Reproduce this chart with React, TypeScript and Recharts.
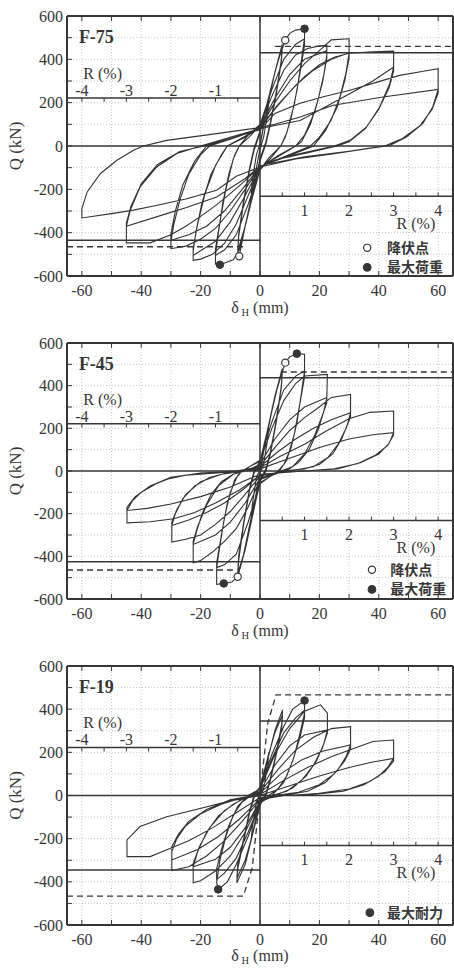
import React from 'react';
import { ComposedChart, Line, Scatter, XAxis, YAxis, CartesianGrid, ReferenceLine, ReferenceDot } from 'recharts';

type Pt = [number, number];

const INK = '#363636';
const SERIF = '"Liberation Serif", "DejaVu Serif", serif';
const CJK = '"Noto Sans CJK JP", "Noto Sans CJK SC", sans-serif';

// axes
const xTicks = [-60, -50, -40, -30, -20, -10, 0, 10, 20, 30, 40, 50, 60];
const yTicks = [-600, -500, -400, -300, -200, -100, 0, 100, 200, 300, 400, 500, 600];
const rTicksNeg = [-4, -3.5, -3, -2.5, -2, -1.5, -1, -0.5];
const rTicksPos = [0.5, 1, 1.5, 2, 2.5, 3, 3.5, 4];
const rLabelsNeg = [-4, -3, -2, -1];
const rLabelsPos = [1, 2, 3, 4];
const MM_PER_R = 15; // 1% drift = 15 mm
const R_LINE_TOP = 222;
const R_LINE_BOT = -232;

// ---------- F-75 cycles (δH mm, Q kN)
const f75C0: Pt[] = [[0,0],[1.5,110],[3,210],[2.6,150],[1.2,40],[0,-15],[-1.5,-120],[-3,-220],[-2.6,-160],[-1.2,-40],[0,10]];
const f75C1: Pt[] = [[0,10],[2.5,180],[5,340],[7.5,470],[7.2,400],[5.5,250],[3.5,110],[2,20],[0,-60],[-2.5,-210],[-5,-370],[-7,-509],[-7.5,-500],[-7.2,-420],[-5.5,-260],[-3.5,-110],[-2,-20],[0,60]];
const f75C2: Pt[] = [[0,60],[2.5,200],[5,340],[7.5,455],[7.2,390],[5.5,240],[3.5,100],[2,10],[0,-70],[-2.5,-220],[-5,-370],[-7.5,-485],[-7.2,-410],[-5.5,-250],[-3.5,-100],[-2,-10],[0,70]];
const f75C3: Pt[] = [[0,70],[3,230],[6,390],[8.5,488],[10,520],[12,535],[15,541],[15,500],[14,400],[12.5,260],[10.5,130],[8.5,40],[7,0],[4,-50],[0,-110],[-3,-260],[-5.5,-400],[-7,-480],[-9,-525],[-13.5,-548],[-15,-545],[-15,-505],[-14,-400],[-12.5,-260],[-10.5,-130],[-8.5,-40],[-7,0],[-4,50],[0,100]];
const f75C4: Pt[] = [[0,100],[4,260],[8,400],[12,470],[15,495],[15,465],[13.5,340],[11.5,190],[9,60],[7,0],[3,-55],[0,-110],[-4,-270],[-8,-410],[-12,-480],[-15,-505],[-15,-475],[-13.5,-350],[-11.5,-200],[-9,-60],[-7,0],[-3,50],[0,95]];
const f75C5: Pt[] = [[0,95],[4,230],[8,350],[12,420],[16,450],[20,462],[22.5,465],[22.5,420],[21.5,330],[19.5,210],[17,100],[14,20],[12,0],[6,-45],[0,-100],[-4,-230],[-8,-360],[-12,-450],[-16,-500],[-20,-522],[-22.5,-528],[-22.5,-485],[-21.5,-390],[-19.5,-260],[-16.5,-130],[-13,-40],[-11,0],[-5,45],[0,90]];
const f75C6: Pt[] = [[0,90],[5,220],[10,330],[15,400],[22.5,440],[22.5,405],[21,290],[18.5,160],[15,50],[12,0],[6,-50],[0,-95],[-5,-230],[-10,-350],[-15,-440],[-22.5,-505],[-22.5,-470],[-21,-360],[-18.5,-220],[-15,-90],[-11,0],[-5,40],[0,85]];
const f75C7: Pt[] = [[0,85],[5,200],[10,300],[15,380],[20,440],[24,490],[30,495],[30,430],[29,340],[27,230],[24,120],[20,40],[17,0],[9,-45],[0,-95],[-5,-200],[-10,-300],[-15,-380],[-20,-430],[-25,-462],[-30,-474],[-30,-440],[-29,-360],[-27,-250],[-24,-130],[-20,-40],[-17,0],[-8,40],[0,85]];
const f75C8: Pt[] = [[0,85],[6,190],[12,280],[18,350],[24,400],[30,430],[30,405],[28.5,300],[26,180],[22,70],[18,0],[9,-50],[0,-95],[-6,-200],[-12,-300],[-18,-370],[-24,-410],[-30,-435],[-30,-405],[-28.5,-300],[-26,-180],[-22,-70],[-18,0],[-8,40],[0,80]];
const f75C9: Pt[] = [[0,80],[5,170],[10,250],[15,320],[20,375],[25,410],[30,428],[38,435],[45,438],[45,364],[43.7,288],[40.3,180],[35.9,88],[30.3,26],[25,0],[15,-30],[7,-55],[0,-95],[-5,-160],[-10,-220],[-15,-275],[-20,-325],[-25,-370],[-30,-410],[-37,-447],[-45,-447],[-45,-370],[-43.7,-297],[-40.4,-189],[-34.8,-97],[-28,-35],[-20,0],[-10,40],[0,80]];
const f75C10: Pt[] = [[0,80],[5,95],[13.5,118],[22,180],[30.3,242],[38,300],[45,364],[45,345],[43.5,270],[40,170],[35.5,80],[30,20],[26,0],[15,-35],[5,-65],[0,-95],[-5,-150],[-14.6,-235],[-25,-285],[-31.4,-312],[-45,-370],[-45,-355],[-43.5,-280],[-40,-175],[-34.5,-85],[-27,-25],[-19,0],[-10,35],[0,75]];
const f75C11: Pt[] = [[0,75],[5,150],[13.5,197],[22,230],[30.3,257],[40,297],[47,326],[55,345],[60,357],[60,261],[58.2,181],[54.8,103],[49.3,41],[43.7,3],[36,-12],[25,-35],[12,-60],[0,-97],[-8,-140],[-14.6,-204],[-25,-245],[-35,-275],[-42.6,-296],[-50,-312],[-60,-332],[-60,-289],[-58.2,-212],[-53.8,-128],[-48.2,-66],[-42.6,-20],[-39.3,0],[-31.4,26],[-14.6,57],[0,85]];
const f75C12: Pt[] = [[0,85],[5,100],[13.5,134],[24.7,188],[41.4,226],[60,261],[60,245],[58,170],[54,95],[48,35],[42,0],[30,-25],[15,-50],[0,-90]];

// ---------- F-45 cycles
const f45C0: Pt[] = [[0,0],[1.5,110],[3,220],[2.6,150],[1.2,30],[0,-10],[-1.5,-120],[-3,-230],[-2.6,-160],[-1.2,-30],[0,10]];
const f45C1: Pt[] = [[0,10],[2.5,180],[5,350],[7.5,480],[7.2,400],[5.5,240],[3.5,90],[2,10],[0,-40],[-2.5,-200],[-5,-370],[-7.5,-496],[-7.2,-420],[-5.5,-250],[-3.5,-90],[-2,-10],[0,40]];
const f45C2: Pt[] = [[0,40],[2.5,190],[5,350],[7.5,465],[7.2,390],[5.5,230],[3.5,80],[2,0],[0,-50],[-2.5,-210],[-5,-370],[-7.5,-480],[-7.2,-400],[-5.5,-240],[-3.5,-80],[-2,0],[0,45]];
const f45C3: Pt[] = [[0,45],[3,220],[6,400],[8.5,508],[10,535],[12.4,550],[15,547],[15,469],[14,370],[12.5,230],[10.5,110],[8,30],[6,0],[3,-30],[0,-60],[-3,-220],[-5.5,-390],[-7.5,-496],[-9.5,-520],[-12.2,-527],[-14.6,-531],[-14.6,-453],[-13.5,-350],[-12,-220],[-10,-100],[-7.5,-20],[-6,0],[-3,25],[0,50]];
const f45C4: Pt[] = [[0,50],[4,230],[8,380],[12,445],[15,469],[15,440],[13.5,320],[11.5,170],[9,50],[6.5,0],[3,-30],[0,-55],[-4,-240],[-8,-390],[-12,-440],[-14.6,-453],[-14.6,-430],[-13,-300],[-11,-150],[-8.5,-40],[-6,0],[-3,25],[0,45]];
const f45C5: Pt[] = [[0,45],[4,200],[8,330],[12,410],[15,445],[22.7,453],[22.5,344],[21.5,280],[19.5,190],[16.5,100],[13,40],[10,10],[6,-10],[0,-40],[-4,-170],[-8,-270],[-12,-330],[-16,-380],[-20,-420],[-22.5,-430],[-22.5,-344],[-21.5,-290],[-19.5,-200],[-16.5,-110],[-13,-50],[-9,-15],[-5,0],[0,30]];
const f45C6: Pt[] = [[0,30],[5,150],[10,240],[15,300],[22.5,344],[22.5,320],[21,260],[18.5,170],[15,80],[11,20],[7,0],[0,-35],[-5,-150],[-10,-240],[-15,-300],[-22.5,-344],[-22.5,-330],[-21,-260],[-18,-160],[-14,-70],[-9,-15],[-5,0],[0,25]];
const f45C7: Pt[] = [[0,25],[5,110],[10,190],[15,250],[20,300],[24,345],[30.5,359],[30.5,273],[29.5,220],[27.5,150],[24.5,80],[20,30],[15,10],[8,0],[0,-25],[-5,-110],[-10,-190],[-15,-250],[-20,-300],[-25,-320],[-29.7,-333],[-29.7,-255],[-28.5,-200],[-26,-130],[-22,-70],[-17,-30],[-10,-5],[0,20]];
const f45C8: Pt[] = [[0,20],[6,90],[12,150],[18,200],[24,240],[30.5,273],[30.5,255],[29,200],[26.5,130],[23,65],[18,20],[10,0],[0,-20],[-6,-90],[-12,-150],[-18,-195],[-24,-230],[-29.7,-255],[-29.7,-240],[-28,-180],[-25,-110],[-20,-50],[-13,-15],[-5,0],[0,15]];
const f45C9: Pt[] = [[0,15],[7,70],[15,125],[22,185],[30,245],[37,275],[45,281],[45,180],[43.5,130],[40,80],[34,40],[26,10],[15,0],[5,-10],[0,-20],[-7,-90],[-15,-150],[-22,-195],[-29,-224],[-37,-238],[-44.8,-243],[-44.8,-185],[-43,-140],[-40,-100],[-35,-60],[-31,-37],[-25,-20],[-14.4,-9],[0,10]];
const f45C10: Pt[] = [[0,10],[10,60],[20,110],[30,150],[38,170],[45,180],[45,170],[43,120],[39,75],[33,35],[25,10],[15,0],[0,-15],[-10,-75],[-20,-120],[-30,-155],[-38,-175],[-44.8,-185],[-44.8,-170],[-42,-120],[-37,-70],[-30,-30],[-20,-10],[0,5]];

// ---------- F-19 cycles
const f19C0: Pt[] = [[0,0],[1.5,100],[3,200],[2.6,140],[1.2,30],[0,-10],[-1.5,-110],[-3,-210],[-2.6,-150],[-1.2,-30],[0,10]];
const f19C1: Pt[] = [[0,10],[2.5,160],[5,300],[7.6,396],[7.3,330],[5.5,200],[3.5,80],[2,10],[0,-40],[-2.5,-180],[-5,-320],[-7.8,-404],[-7.5,-340],[-5.5,-210],[-3.5,-80],[-2,-10],[0,40]];
const f19C2: Pt[] = [[0,40],[2.5,170],[5,290],[7.6,375],[7.3,310],[5.5,190],[3.5,70],[2,0],[0,-45],[-2.5,-180],[-5,-300],[-7.8,-385],[-7.5,-320],[-5.5,-200],[-3.5,-70],[-2,0],[0,40]];
const f19C3: Pt[] = [[0,40],[4,190],[8,320],[11,400],[15,440],[15,380],[13.5,290],[11.5,180],[9,90],[6,30],[3,0],[0,-35],[-4,-190],[-8,-320],[-11,-400],[-14.1,-435],[-14.6,-404],[-13.5,-300],[-11.5,-190],[-9,-90],[-6,-30],[-3,0],[0,35]];
const f19C4: Pt[] = [[0,35],[4,170],[8,290],[12,360],[15,395],[15,360],[13.5,270],[11,160],[8,60],[4,0],[0,-35],[-4,-170],[-8,-290],[-12,-360],[-14.6,-390],[-14.6,-340],[-13,-250],[-10.5,-140],[-7.5,-50],[-4,0],[0,30]];
const f19C5: Pt[] = [[0,30],[5,190],[10,310],[15,390],[20.4,420],[22.7,381],[22.7,304],[21.5,240],[19,160],[15.5,90],[11,35],[6,5],[0,-30],[-5,-170],[-10,-280],[-15,-350],[-20,-395],[-22.5,-404],[-22.5,-330],[-21,-260],[-18,-170],[-14,-95],[-9,-40],[-4,-5],[0,20]];
const f19C6: Pt[] = [[0,20],[5,140],[10,230],[15,280],[22.7,304],[22.7,290],[21,220],[18,140],[14,70],[9,20],[4,0],[0,-25],[-5,-150],[-10,-240],[-15,-295],[-22.5,-330],[-22.5,-315],[-20.5,-240],[-17,-150],[-12,-70],[-6,-15],[0,15]];
const f19C7: Pt[] = [[0,15],[6,120],[12,210],[18,270],[24,310],[30.5,319],[30.5,234],[29,180],[26,115],[22,60],[16,20],[8,0],[0,-20],[-6,-120],[-12,-210],[-18,-280],[-24,-330],[-29.7,-348],[-29.7,-260],[-28,-200],[-25,-140],[-20,-85],[-13,-40],[-6,-10],[0,10]];
const f19C8: Pt[] = [[0,10],[7,100],[14,165],[21,205],[30.5,234],[30.5,215],[28.5,160],[25,100],[20,50],[13,15],[5,0],[0,-15],[-7,-110],[-14,-190],[-21,-250],[-29.7,-299],[-29.7,-237],[-27.5,-180],[-24,-120],[-18,-65],[-10,-20],[0,5]];
const f19C9: Pt[] = [[0,5],[8,70],[16,130],[24,180],[32,220],[38,250],[45,257],[45,172],[43,130],[40,90],[35,50],[28,20],[18,5],[8,0],[0,-10],[-8,-80],[-16,-150],[-24,-210],[-32,-255],[-37,-283],[-44.8,-283],[-44.8,-206],[-40.4,-144],[-31.4,-98],[-20.2,-60],[-10,-25],[0,0]];
const f19C10: Pt[] = [[0,0],[10,45],[20,90],[30,130],[38,155],[45,172],[45,160],[42,110],[37,65],[30,30],[20,10],[10,0]];

// reference levels
const f75Solid: Pt[][] = [[[0,430],[65,430]], [[-65,-435],[0,-435]]];
const f75Dashed: Pt[][] = [[[5,460],[65,460]], [[-65,-465],[-5,-465]]];
const f45Solid: Pt[][] = [[[0,437],[65,437]], [[-65,-425],[0,-425]]];
const f45Dashed: Pt[][] = [[[7,464],[65,464]], [[-65,-464],[-8,-464]]];
const f19Solid: Pt[][] = [[[0,345],[65,345]], [[-65,-345],[0,-345]]];
const f19Dashed: Pt[][] = [[[-65,-466],[-5.6,-466],[-2.6,-334],[2.6,334],[5.4,466],[65,466]]];

// markers
const f75Yield: Pt[] = [[8.5,488],[-7,-509]];
const f75Max: Pt[] = [[15,541],[-13.5,-548]];
const f45Yield: Pt[] = [[8.5,508],[-7.5,-496]];
const f45Max: Pt[] = [[12.4,550],[-12.2,-527]];
const f19Max: Pt[] = [[15,440],[-14.1,-435]];

type LegendItem = { kind: 'open' | 'filled'; text: string; y: number };

interface PanelCfg {
  name: string;
  top: number;
  plotH: number;
  loops: Pt[][];
  solid: Pt[][];
  dashed: Pt[][];
  yieldPts: Pt[];
  maxPts: Pt[];
  legend: LegendItem[];
  legendX: number;
  legendTextX: number;
  xTitleY: number;
}

const panels: PanelCfg[] = [
  {
    name: 'F-75', top: 0, plotH: 260,
    loops: [f75C0, f75C1, f75C2, f75C3, f75C4, f75C5, f75C6, f75C7, f75C8, f75C9, f75C10, f75C11, f75C12],
    solid: f75Solid, dashed: f75Dashed, yieldPts: f75Yield, maxPts: f75Max,
    legend: [{ kind: 'open', text: '降伏点', y: -470 }, { kind: 'filled', text: '最大荷重', y: -560 }],
    legendX: 36.1, legendTextX: 42.8, xTitleY: -748,
  },
  {
    name: 'F-45', top: 327, plotH: 256,
    loops: [f45C0, f45C1, f45C2, f45C3, f45C4, f45C5, f45C6, f45C7, f45C8, f45C9, f45C10],
    solid: f45Solid, dashed: f45Dashed, yieldPts: f45Yield, maxPts: f45Max,
    legend: [{ kind: 'open', text: '降伏点', y: -463 }, { kind: 'filled', text: '最大荷重', y: -555 }],
    legendX: 37.7, legendTextX: 43.9, xTitleY: -752,
  },
  {
    name: 'F-19', top: 650, plotH: 259,
    loops: [f19C0, f19C1, f19C2, f19C3, f19C4, f19C5, f19C6, f19C7, f19C8, f19C9, f19C10],
    solid: f19Solid, dashed: f19Dashed, yieldPts: [], maxPts: f19Max,
    legend: [{ kind: 'filled', text: '最大耐力', y: -543 }],
    legendX: 37, legendTextX: 42.8, xTitleY: -745,
  },
];

const toRows = (pts: Pt[]) => pts.map(([x, y]) => ({ x, y }));

const xTick = (p: any) => {
  const v = p.payload.value;
  if (v % 20 !== 0) return <g />;
  return (
    <text x={p.x} y={p.y} dy="0.71em" textAnchor="middle" fontFamily={SERIF} fontSize={16} fill={INK}>{v}</text>
  );
};

const yTick = (p: any) => {
  const v = p.payload.value;
  if (v % 200 !== 0) return <g />;
  return (
    <text x={p.x} y={p.y} dy="0.35em" textAnchor="end" fontFamily={SERIF} fontSize={16} fill={INK}>{v}</text>
  );
};

const noTick = () => <g />;

// text anchored at a data point
const textAt = (key: string, x: number, y: number, render: (cx: number, cy: number) => React.ReactElement) => (
  <ReferenceDot
    key={key}
    x={x}
    y={y}
    r={0}
    fill="none"
    stroke="none"
    ifOverflow="visible"
    label={(p: any) => {
      const vb = p.viewBox || p;
      return render(vb.x, vb.y);
    }}
  />
);

const openDot = (p: any) => <circle cx={p.cx} cy={p.cy} r={3.6} fill="#fff" stroke={INK} strokeWidth={1.2} />;
const fullDot = (p: any) => <circle cx={p.cx} cy={p.cy} r={3.8} fill={INK} stroke={INK} />;

function Panel({ cfg }: { cfg: PanelCfg }) {
  const height = 15 + 1 + cfg.plotH + 44;
  const path = toRows(cfg.loops.flat());
  const serif = { fontFamily: SERIF, fill: INK };
  return (
    <div style={{ position: 'absolute', left: 0, top: cfg.top }}>
      <ComposedChart width={454} height={height} margin={{ top: 15, right: 1, left: 0, bottom: 0 }}>
        <CartesianGrid stroke="#b9b9b9" strokeDasharray="1 2" strokeWidth={0.8} />
        <XAxis
          type="number" dataKey="x" domain={[-65, 65]} ticks={xTicks} interval={0} allowDataOverflow
          height={44} tickSize={-5} tickMargin={14} tick={xTick}
          axisLine={{ stroke: INK, strokeWidth: 2 }} tickLine={{ stroke: INK }}
        />
        <XAxis
          xAxisId="top" orientation="top" type="number" dataKey="x" domain={[-65, 65]} ticks={xTicks} interval={0}
          allowDataOverflow height={1} tickSize={-5} tick={noTick}
          axisLine={{ stroke: INK, strokeWidth: 2 }} tickLine={{ stroke: INK }}
        />
        <YAxis
          type="number" dataKey="y" domain={[-600, 600]} ticks={yTicks} interval={0} allowDataOverflow
          width={67} tickSize={-5} tickMargin={9} tick={yTick}
          axisLine={{ stroke: INK, strokeWidth: 2 }} tickLine={{ stroke: INK }}
        />
        <ReferenceLine x={65} stroke={INK} strokeWidth={2} />
        <ReferenceLine y={0} stroke={INK} strokeWidth={1.5} />
        <ReferenceLine x={0} stroke={INK} strokeWidth={1.5} />

        {/* drift-angle scales */}
        <ReferenceLine segment={[{ x: -65, y: R_LINE_TOP }, { x: 0, y: R_LINE_TOP }]} stroke={INK} strokeWidth={1.5} />
        <ReferenceLine segment={[{ x: 0, y: R_LINE_BOT }, { x: 65, y: R_LINE_BOT }]} stroke={INK} strokeWidth={1.5} />
        {rTicksNeg.map((r) => (
          <ReferenceLine key={`rn${r}`} segment={[{ x: r * MM_PER_R, y: R_LINE_TOP }, { x: r * MM_PER_R, y: R_LINE_TOP - 18 }]} stroke={INK} strokeWidth={1} />
        ))}
        {rTicksPos.map((r) => (
          <ReferenceLine key={`rp${r}`} segment={[{ x: r * MM_PER_R, y: R_LINE_BOT }, { x: r * MM_PER_R, y: R_LINE_BOT + 18 }]} stroke={INK} strokeWidth={1} />
        ))}

        {cfg.solid.map((seg, i) => (
          <Line key={`s${i}`} data={toRows(seg)} dataKey="y" type="linear" stroke={INK} strokeWidth={1.5} dot={false} isAnimationActive={false} />
        ))}
        {cfg.dashed.map((seg, i) => (
          <Line key={`d${i}`} data={toRows(seg)} dataKey="y" type="linear" stroke={INK} strokeWidth={1.3} strokeDasharray="6 4" dot={false} isAnimationActive={false} />
        ))}

        <Line data={path} dataKey="y" type="linear" stroke="#333" strokeWidth={1.1} dot={false} isAnimationActive={false} />

        {cfg.yieldPts.length > 0 && (
          <Scatter data={toRows(cfg.yieldPts)} dataKey="y" shape={openDot} isAnimationActive={false} />
        )}
        <Scatter data={toRows(cfg.maxPts)} dataKey="y" shape={fullDot} isAnimationActive={false} />

        {/* texts */}
        {textAt('title', -61, 505, (cx, cy) => (
          <text x={cx} y={cy} dy="0.35em" fontSize={18} fontWeight="bold" {...serif}>{cfg.name}</text>
        ))}
        {textAt('rtl', -53, 337, (cx, cy) => (
          <text x={cx} y={cy} dy="0.35em" textAnchor="middle" fontSize={16} {...serif}>R (%)</text>
        ))}
        {rLabelsNeg.map((r) =>
          textAt(`rln${r}`, r * MM_PER_R, 258, (cx, cy) => (
            <text x={cx} y={cy} dy="0.35em" textAnchor="middle" fontSize={16} {...serif}>{r}</text>
          ))
        )}
        {rLabelsPos.map((r) =>
          textAt(`rlp${r}`, r * MM_PER_R, -297, (cx, cy) => (
            <text x={cx} y={cy} dy="0.35em" textAnchor="middle" fontSize={16} {...serif}>{r}</text>
          ))
        )}
        {textAt('rbr', 52.5, -356, (cx, cy) => (
          <text x={cx} y={cy} dy="0.35em" textAnchor="middle" fontSize={16} {...serif}>R (%)</text>
        ))}

        {cfg.legend.map((item, i) => (
          <ReferenceDot
            key={`lm${i}`} x={cfg.legendX} y={item.y} r={item.kind === 'open' ? 3.6 : 3.8}
            fill={item.kind === 'open' ? '#fff' : INK} stroke={INK} strokeWidth={1.2}
          />
        ))}
        {cfg.legend.map((item, i) =>
          textAt(`lt${i}`, cfg.legendTextX, item.y, (cx, cy) => (
            <text x={cx} y={cy} dy="0.36em" fontSize={14} fontWeight="bold" fontFamily={CJK} fill={INK}>{item.text}</text>
          ))
        )}

        {/* axis titles */}
        {textAt('qt', -82.5, 0, (cx, cy) => (
          <text x={cx} y={cy} dy="0.35em" textAnchor="middle" fontSize={17} transform={`rotate(-90 ${cx} ${cy})`} {...serif}>Q (kN)</text>
        ))}
        {textAt('xt', 0, cfg.xTitleY, (cx, cy) => (
          <text x={cx} y={cy} dy="0.3em" textAnchor="middle" fontSize={16} {...serif}>
            δ<tspan fontSize={10.5} dy={3}> H</tspan><tspan dy={-3}> (mm)</tspan>
          </text>
        ))}
      </ComposedChart>
    </div>
  );
}

export default function App() {
  return (
    <div style={{ position: 'relative', width: 454, height: 969, background: '#fff', overflow: 'hidden' }}>
      <style>{'body{margin:0;}'}</style>
      {panels.map((cfg) => (
        <Panel key={cfg.name} cfg={cfg} />
      ))}
    </div>
  );
}
